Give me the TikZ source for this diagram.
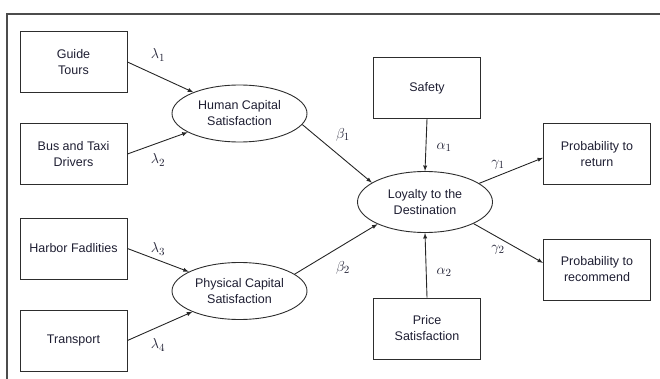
\documentclass[tikz,border=0pt]{standalone}
\usepackage{fontspec}
\setmainfont{Liberation Sans}
\usetikzlibrary{arrows}
\usetikzlibrary{shapes.geometric}

\definecolor{trait}{RGB}{45,45,45}
\definecolor{texte}{RGB}{30,30,50}

\tikzset{
  boite/.style={draw=trait, line width=0.9pt, minimum width=107pt, minimum height=61pt,
    align=center, inner sep=2pt, text=texte, font=\fontsize{12.5}{16}\selectfont},
  latent/.style={ellipse, draw=trait, line width=0.9pt, minimum width=135pt, minimum height=57pt,
    align=center, inner sep=0pt, text=texte, font=\fontsize{12.5}{16}\selectfont},
  fleche/.style={-latex, line width=0.9pt, draw=black!85},
  coef/.style={text=texte, font=\fontsize{15.5}{18}\selectfont}
}

\begin{document}
\begin{tikzpicture}[x=1pt,y=-1pt]
    \useasboundingbox (0,0) rectangle (660,379);
    % Cadre
    \draw[line width=1.2pt, black!70] (7,379) -- (7,14) -- (660,14);
    % Indicateurs de gauche
    \node[boite] (gt) at (73.5,62) {Guide\\Tours};
    \node[boite] (bt) at (73.5,154) {Bus and Taxi\\Drivers};
    \node[boite] (hf) at (73.5,248.5) {Harbor Fadlities};
    \node[boite] (tr) at (73.5,340.5) {Transport};
    % Variables latentes
    \node[latent] (hcs) at (239.5,113.5) {Human Capital\\Satisfaction};
    \node[latent] (pcs) at (239.5,291) {Physical Capital\\Satisfaction};
    \node[latent, minimum height=61pt] (ldd) at (425,202) {Loyalty to the\\Destination};
    % Boites de droite
    \node[boite] (sf) at (427,88) {Safety};
    \node[boite] (ps) at (427,328.5) {Price\\Satisfaction};
    \node[boite] (pr) at (597,154) {Probability to\\return};
    \node[boite] (prc) at (597,269.5) {Probability to\\recommend};
    % Fleches
    \draw[fleche] (gt.east) -- (hcs);
    \draw[fleche] (bt.east) -- (hcs);
    \draw[fleche] (hf.east) -- (pcs);
    \draw[fleche] (tr.east) -- (pcs);
    \draw[fleche] (hcs.-10) -- (ldd.160);
    \draw[fleche] (pcs.17) -- (ldd.205);
    \draw[fleche] (sf.south) -- (ldd.north);
    \draw[fleche] (ps.north) -- (ldd.south);
    \draw[fleche] (ldd.19) -- (pr.184);
    \draw[fleche] (ldd.-24) -- (prc.173);
    % Coefficients
    \node[coef] (l1) at (158,55) {$\lambda_1$};
    \node[coef] (l2) at (158,160) {$\lambda_2$};
    \node[coef] (l3) at (158,249) {$\lambda_3$};
    \node[coef] (l4) at (158,345) {$\lambda_4$};
    \node[coef] (b1) at (343,135) {$\beta_1$};
    \node[coef] (b2) at (343,268) {$\beta_2$};
    \node[coef] (a1) at (444,147) {$\alpha_1$};
    \node[coef] (a2) at (444,272) {$\alpha_2$};
    \node[coef] (g1) at (498,165) {$\gamma_1$};
    \node[coef] (g2) at (498,250) {$\gamma_2$};
\end{tikzpicture}
\end{document}
